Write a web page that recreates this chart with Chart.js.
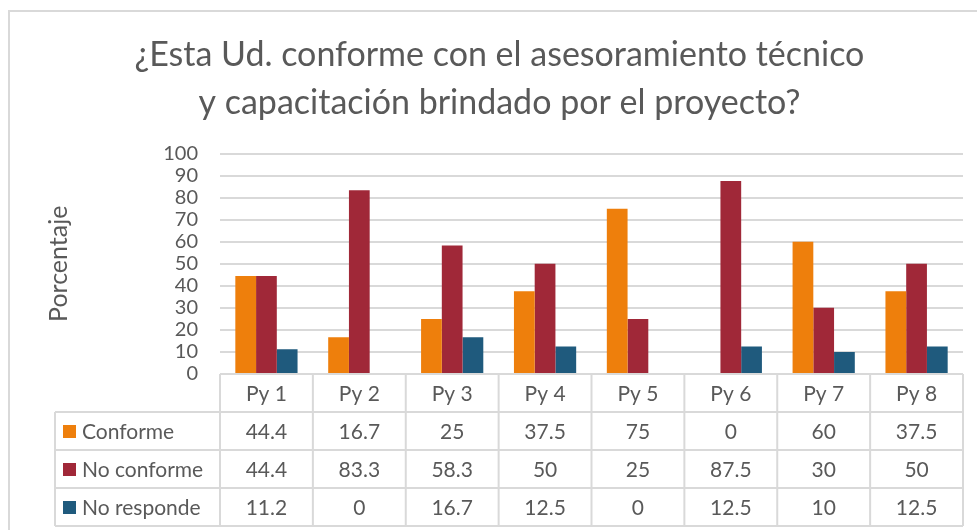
<!DOCTYPE html>
<html>
<head>
<meta charset="utf-8">
<script src="https://cdn.jsdelivr.net/npm/chart.js@4/dist/chart.umd.min.js"></script>
<style>
  html, body { margin: 0; padding: 0; background: #fff; }
  #wrap { width: 977px; height: 530px; position: relative; }
</style>
</head>
<body>
<div id="wrap"><canvas id="myChart" width="977" height="530"></canvas></div>
<script>
// data
const categories = ['Py 1', 'Py 2', 'Py 3', 'Py 4', 'Py 5', 'Py 6', 'Py 7', 'Py 8'];
const conforme = [44.4, 16.7, 25, 37.5, 75, 0, 60, 37.5];
const noConforme = [44.4, 83.3, 58.3, 50, 25, 87.5, 30, 50];
const noResponde = [11.2, 0, 16.7, 12.5, 0, 12.5, 10, 12.5];
const seriesNames = ['Conforme', 'No conforme', 'No responde'];
const seriesColors = ['#EE7F0C', '#A02838', '#1F5A7D'];

const FONT = 'Lato, "Open Sans", sans-serif';
const TEXT = '#595959';
const LINE = '#D9D9D9';

// draws the frame and the data table under the bars
const tablePlugin = {
    id: 'dataTable',
    beforeDraw(chart) {
        const ctx = chart.ctx;
        ctx.save();
        ctx.strokeStyle = LINE;
        ctx.lineWidth = 2;
        ctx.strokeRect(9, 11, 990, 540);
        ctx.restore();
    },
    afterDraw(chart) {
        const ctx = chart.ctx;
        const x = chart.scales.x;
        const area = chart.chartArea;
        const colW = (area.right - area.left) / categories.length;
        const rowH = 38;
        const top = area.bottom;
        const legendLeft = 55;
        const bottom = top + rowH * 4;

        ctx.save();
        ctx.strokeStyle = LINE;
        ctx.lineWidth = 2;

        // horizontal lines
        ctx.beginPath();
        ctx.moveTo(area.left, top);
        ctx.lineTo(area.right, top);
        for (let r = 1; r <= 4; r++) {
            ctx.moveTo(legendLeft, top + rowH * r);
            ctx.lineTo(area.right, top + rowH * r);
        }
        // vertical lines
        for (let c = 0; c <= categories.length; c++) {
            const px = c < categories.length ? x.getPixelForTick(c) - colW / 2 : x.getPixelForTick(c - 1) + colW / 2;
            ctx.moveTo(px, top);
            ctx.lineTo(px, bottom);
        }
        ctx.moveTo(legendLeft, top + rowH);
        ctx.lineTo(legendLeft, bottom);
        ctx.stroke();

        ctx.fillStyle = TEXT;
        ctx.font = '21px ' + FONT;
        ctx.textBaseline = 'middle';
        ctx.textAlign = 'center';
        categories.forEach((label, i) => {
            ctx.fillText(label, x.getPixelForTick(i), top + rowH / 2 + 1);
        });

        const series = [conforme, noConforme, noResponde];
        series.forEach((vals, r) => {
            const cy = top + rowH * (r + 1) + rowH / 2 + 1;
            ctx.textAlign = 'center';
            ctx.fillStyle = TEXT;
            vals.forEach((v, i) => {
                ctx.fillText(String(v), x.getPixelForTick(i), cy);
            });
            ctx.fillStyle = seriesColors[r];
            ctx.fillRect(63, cy - 7, 13, 13);
            ctx.fillStyle = TEXT;
            ctx.textAlign = 'left';
            ctx.fillText(seriesNames[r], 82, cy);
        });
        ctx.restore();
    }
};

const ctx = document.getElementById('myChart').getContext('2d');
const chart = new Chart(ctx, {
    type: 'bar',
    data: {
        labels: categories,
        datasets: [{
            label: seriesNames[0],
            data: conforme,
            backgroundColor: seriesColors[0]
        }, {
            label: seriesNames[1],
            data: noConforme,
            backgroundColor: seriesColors[1]
        }, {
            label: seriesNames[2],
            data: noResponde,
            backgroundColor: seriesColors[2]
        }]
    },
    options: {
        responsive: false,
        animation: false,
        layout: {
            padding: { left: 36, right: 14, top: 12, bottom: 156 }
        },
        datasets: {
            bar: {
                categoryPercentage: 0.67,
                barPercentage: 1,
                borderWidth: 0
            }
        },
        plugins: {
            legend: { display: false },
            tooltip: { enabled: false },
            title: {
                display: true,
                text: ['¿Esta Ud. conforme con el asesoramiento técnico', 'y capacitación brindado por el proyecto?'],
                color: TEXT,
                font: { family: FONT, size: 34, weight: 'normal', lineHeight: 1.42 },
                padding: { top: 19, bottom: 26 }
            }
        },
        scales: {
            x: {
                display: false
            },
            y: {
                min: 0,
                max: 100,
                afterFit: function (axis) {
                    axis.width = 184;
                },
                ticks: {
                    stepSize: 10,
                    autoSkip: false,
                    color: TEXT,
                    padding: 22,
                    font: { family: FONT, size: 20 }
                },
                grid: {
                    color: LINE,
                    lineWidth: 2,
                    drawTicks: false
                },
                border: { display: false },
                title: {
                    display: true,
                    text: 'Porcentaje',
                    color: TEXT,
                    padding: { top: 8, bottom: 0 },
                    font: { family: FONT, size: 25 }
                }
            }
        }
    },
    plugins: [tablePlugin]
});
</script>
</body>
</html>
